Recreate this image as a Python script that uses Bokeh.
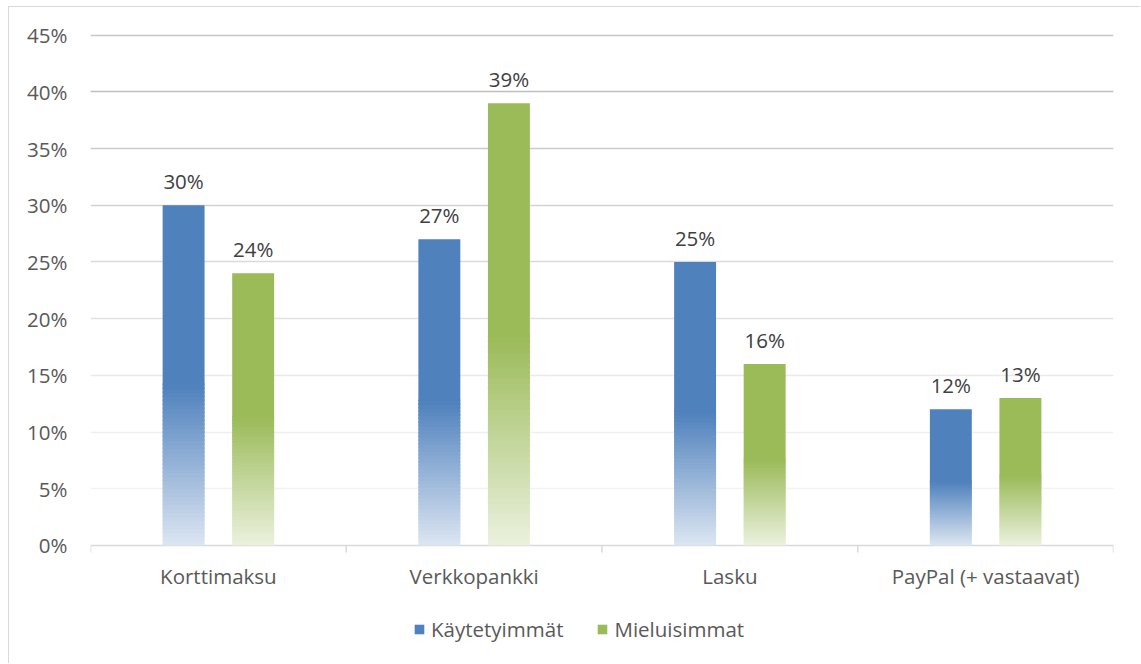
import numpy as np
from bokeh.plotting import figure
from bokeh.models import (ColumnDataSource, Range1d, FixedTicker, NumeralTickFormatter,
                          Legend, LegendItem)
from bokeh.core.properties import value
from bokeh.embed import file_html
from bokeh.resources import INLINE

# --- data -------------------------------------------------------------
categories = ["Korttimaksu", "Verkkopankki", "Lasku", "PayPal (+ vastaavat)"]
kaytetyimmat = [0.30, 0.27, 0.25, 0.12]
mieluisimmat = [0.24, 0.39, 0.16, 0.13]
series_names = ["Käytetyimmät", "Mieluisimmat"]
y_ticks = [0.0, 0.05, 0.10, 0.15, 0.20, 0.25, 0.30, 0.35, 0.40, 0.45]

# --- styling ----------------------------------------------------------
FONT = "Open Sans"
FONT_SIZE = "20.5px"
TEXT_GREY = "#595959"
LABEL_GREY = "#404040"
AXIS_GREY = "#D9D9D9"
series_top = ["#4F81BD", "#9BBB59"]
series_bottom = ["#DCE6F2", "#EBF1DE"]
grid_colors = ["#F3F3F3", "#EFEFEF", "#E9E9E9", "#E2E2E2", "#DADADA",
               "#D2D2D2", "#CACACA", "#BEBEBE", "#C6C6C6"]
BAR_W = 0.164
OFFSETS = [-0.136, 0.136]
FADE_FRAC = 0.47   # lower part of each bar fades to the pale tint
N_SLICES = 40


def hex_to_rgb(h):
    h = h.lstrip("#")
    return np.array([int(h[i:i + 2], 16) for i in (0, 2, 4)], dtype=float)


def mix(c0, c1, t):
    a, b = hex_to_rgb(c0), hex_to_rgb(c1)
    r = a + (b - a) * t
    return "#%02x%02x%02x" % tuple(int(round(v)) for v in r)


# the plotting frame runs down to the bottom edge; the area below zero
# holds the category labels and the legend
p = figure(width=1132, height=657, output_backend="svg", toolbar_location=None,
           x_range=Range1d(0, len(categories)), y_range=Range1d(-0.105, 0.455),
           min_border_left=81, min_border_right=28, min_border_top=22,
           min_border_bottom=0, outline_line_color=None,
           background_fill_color="white", border_fill_color="white")
# chart border on the top and left edges
p.styles = {"margin-left": "8px", "margin-top": "6px",
            "border-left": "1px solid #D9D9D9", "border-top": "1px solid #D9D9D9"}
p.xgrid.visible = False
p.ygrid.visible = False
p.xaxis.visible = False

# horizontal gridlines and the category axis line at zero
p.hspan(y=y_ticks[1:], line_color=grid_colors, line_width=1.3)
p.hspan(y=[y_ticks[0]], line_color=AXIS_GREY, line_width=1.5)

centers = np.arange(len(categories)) + 0.5
boundaries = np.arange(len(categories) + 1)

# tick marks between categories
p.ray(x=boundaries, y=[y_ticks[0]] * len(boundaries), length=7, angle=-np.pi / 2,
      length_units="screen", line_color=AXIS_GREY, line_width=1.5)

# category names
p.text(x=centers, y=[y_ticks[0]] * len(centers), text=categories,
       text_align="center", text_baseline="alphabetic", y_offset=31,
       text_font=value(FONT), text_font_size=FONT_SIZE, text_color=TEXT_GREY)

legend_renderers = []
for s, vals in enumerate([kaytetyimmat, mieluisimmat]):
    xs = centers + OFFSETS[s]
    vals = np.array(vals)
    fade_top = vals * FADE_FRAC
    step = fade_top / N_SLICES
    # graded lower part: each step overlaps the next one slightly
    for i in range(N_SLICES):
        col = mix(series_bottom[s], series_top[s], (i + 0.5) / N_SLICES)
        p.vbar(x=xs, bottom=step * i, top=step * (i + 1.6), width=BAR_W,
               fill_color=col, line_color=None)
    # solid upper part
    r = p.vbar(x=xs, bottom=fade_top, top=vals, width=BAR_W,
               fill_color=series_top[s], line_color=None)
    legend_renderers.append(r)
    src = ColumnDataSource(dict(x=xs, y=vals,
                                txt=["%d%%" % round(v * 100) for v in vals]))
    p.text(x="x", y="y", text="txt", source=src, text_align="center",
           text_baseline="alphabetic", y_offset=-24, text_font=value(FONT),
           text_font_size=FONT_SIZE, text_color=LABEL_GREY)

ya = p.yaxis[0]
ya.ticker = FixedTicker(ticks=y_ticks)
ya.formatter = NumeralTickFormatter(format="0%")
ya.axis_line_color = None
ya.major_tick_line_color = None
ya.minor_tick_line_color = None
ya.major_label_text_font = FONT
ya.major_label_text_font_size = FONT_SIZE
ya.major_label_text_color = TEXT_GREY
ya.major_label_standoff = 17

legend = Legend(items=[LegendItem(label=n, renderers=[r])
                       for n, r in zip(series_names, legend_renderers)],
                orientation="horizontal", location=(323, 21),
                glyph_width=12, glyph_height=12, label_text_font=FONT,
                label_text_font_size=FONT_SIZE, label_text_color=TEXT_GREY,
                spacing=33, padding=0, margin=0, label_standoff=6,
                border_line_color=None, background_fill_alpha=0)
p.add_layout(legend)

open("out.html", "w").write(file_html(p, INLINE))
